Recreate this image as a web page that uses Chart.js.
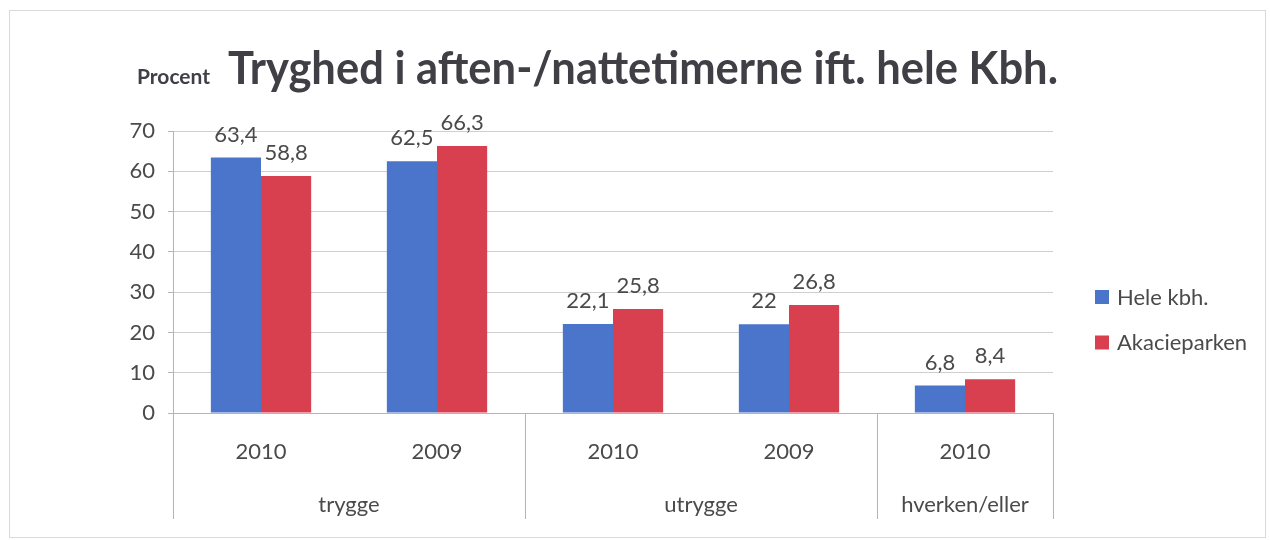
<!DOCTYPE html>
<html>
<head>
<meta charset="utf-8">
<script src="https://cdn.jsdelivr.net/npm/chart.js@4"></script>
<style>
  html, body { margin: 0; padding: 0; background: #ffffff; }
  #wrap { width: 1270px; height: 540px; position: relative; }
</style>
</head>
<body>
<div id="wrap"><canvas id="c" width="1270" height="540"></canvas></div>
<script>
// ---- data ----
const yearLabels = ['2010', '2009', '2010', '2009', '2010'];
const groupLabels = ['trygge', 'utrygge', 'hverken/eller'];
const groupSpans = [2, 2, 1];
const seriesNames = ['Hele kbh.', 'Akacieparken'];
const heleKbh = [63.4, 62.5, 22.1, 22, 6.8];
const akacieparken = [58.8, 66.3, 25.8, 26.8, 8.4];
const yTicks = [0, 10, 20, 30, 40, 50, 60, 70];
const titleText = 'Tryghed i aften-/nattetimerne ift. hele Kbh.';
const unitText = 'Procent';

// ---- styles ----
const FONT = 'Lato, "Open Sans", sans-serif';
const BLUE = '#4b74cb';
const RED = '#d9404f';
const TEXT = '#4a4a4a';
const GRID = '#cfcfcf';
const AXIS = '#b5b5b5';

const fmt = v => String(v).replace('.', ',');

const decor = {
  id: 'decor',
  beforeDraw(chart) {
    const ctx = chart.ctx;
    ctx.save();
    ctx.fillStyle = '#ffffff';
    ctx.fillRect(0, 0, chart.width, chart.height);
    ctx.strokeStyle = '#dadada';
    ctx.lineWidth = 1;
    ctx.strokeRect(9.5, 10.5, 1256, 527);
    // title
    ctx.fillStyle = '#3f3f45';
    ctx.textBaseline = 'alphabetic';
    ctx.textAlign = 'left';
    ctx.font = 'bold 21px ' + FONT;
    ctx.fillText(unitText, 137, 84, 79);
    ctx.font = 'bold 45px ' + FONT;
    ctx.fillText(titleText, 228, 84, 830);
    ctx.restore();
  },
  afterDatasetsDraw(chart) {
    const ctx = chart.ctx;
    ctx.save();
    ctx.font = '22px ' + FONT;
    ctx.fillStyle = TEXT;
    ctx.textAlign = 'center';
    ctx.textBaseline = 'alphabetic';
    chart.data.datasets.forEach((ds, di) => {
      const meta = chart.getDatasetMeta(di);
      meta.data.forEach((el, i) => {
        ctx.fillText(fmt(ds.data[i]), el.x, el.y - 16);
      });
    });
    ctx.restore();
  },
  afterDraw(chart) {
    const ctx = chart.ctx;
    const xs = chart.scales.x;
    const area = chart.chartArea;
    const n = chart.data.labels.length;
    const cw = (area.right - area.left) / n;
    const lineBottom = 519;
    ctx.save();
    ctx.strokeStyle = AXIS;
    ctx.lineWidth = 1;
    // group separators and labels
    let start = 0;
    const bounds = [];
    groupSpans.forEach((span) => {
      const l = xs.getPixelForValue(start) - cw / 2;
      const r = xs.getPixelForValue(start + span - 1) + cw / 2;
      bounds.push([l, r]);
      start += span;
    });
    const edges = [bounds[0][0]].concat(bounds.map(b => b[1]));
    edges.forEach(x => {
      const px = Math.round(x) + 0.5;
      ctx.beginPath();
      ctx.moveTo(px, area.bottom);
      ctx.lineTo(px, lineBottom);
      ctx.stroke();
    });
    ctx.font = '22px ' + FONT;
    ctx.fillStyle = TEXT;
    ctx.textAlign = 'center';
    ctx.textBaseline = 'alphabetic';
    bounds.forEach((b, i) => {
      ctx.fillText(groupLabels[i], (b[0] + b[1]) / 2, 512);
    });
    // legend
    ctx.textAlign = 'left';
    chart.data.datasets.forEach((ds, i) => {
      const y = 290 + i * 45.5;
      ctx.fillStyle = ds.backgroundColor;
      ctx.fillRect(1095, y, 14, 14);
      ctx.fillStyle = TEXT;
      ctx.fillText(ds.label, 1117, y + 14.5);
    });
    ctx.restore();
  }
};

new Chart(document.getElementById('c'), {
  type: 'bar',
  data: {
    labels: yearLabels,
    datasets: [
      { label: seriesNames[0], data: heleKbh, backgroundColor: BLUE },
      { label: seriesNames[1], data: akacieparken, backgroundColor: RED }
    ]
  },
  options: {
    responsive: false,
    animation: false,
    devicePixelRatio: 1,
    layout: { padding: { top: 131, right: 217, bottom: 0, left: 0 } },
    datasets: { bar: { categoryPercentage: 0.57, barPercentage: 1.0 } },
    plugins: {
      legend: { display: false },
      title: { display: false },
      tooltip: { enabled: false }
    },
    scales: {
      x: {
        grid: { display: false },
        border: { display: true, color: AXIS },
        ticks: { font: { family: FONT, size: 22 }, color: TEXT, padding: 18, maxRotation: 0 },
        afterFit(scale) { scale.height = 127; }
      },
      y: {
        min: 0,
        max: 70,
        afterBuildTicks(scale) { scale.ticks = yTicks.map(v => ({ value: v })); },
        grid: { color: GRID, tickLength: 5, tickColor: AXIS },
        border: { display: true, color: AXIS },
        ticks: { font: { family: FONT, size: 22 }, color: TEXT, padding: 13 },
        afterFit(scale) { scale.width = 173; }
      }
    }
  },
  plugins: [decor]
});
</script>
</body>
</html>
